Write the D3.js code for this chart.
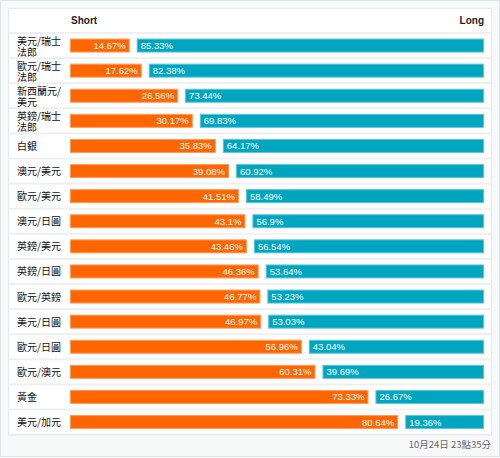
<!DOCTYPE html>
<html><head><meta charset="utf-8">
<script src="https://cdn.jsdelivr.net/npm/d3@7"></script>
<style>
body{margin:0;background:#fff;font-family:"Liberation Sans","Noto Sans CJK TC",sans-serif;}
</style></head><body>
<svg id="c" width="500" height="458"></svg>
<script>
const labels = [["美元/瑞士","法郎"],["歐元/瑞士","法郎"],["新西蘭元/","美元"],["英鎊/瑞士","法郎"],["白銀"],["澳元/美元"],["歐元/美元"],["澳元/日圓"],["英鎊/美元"],["英鎊/日圓"],["歐元/英鎊"],["美元/日圓"],["歐元/日圓"],["歐元/澳元"],["黃金"],["美元/加元"]];
const shortVals = [14.67,17.62,26.56,30.17,35.83,39.08,41.51,43.1,43.46,46.36,46.77,46.97,56.96,60.31,73.33,80.64];
const longVals  = [85.33,82.38,73.44,69.83,64.17,60.92,58.49,56.9,56.54,53.64,53.23,53.03,43.04,39.69,26.67,19.36];
const headers = ["Short","Long"];
const footer = "10月24日 23點35分";

(function(){
const svg = d3.select("#c");
const W=500,H=458;
svg.append("rect").attr("x",0.5).attr("y",0.5).attr("width",W-1).attr("height",H-2).attr("fill","#f7f8f8").attr("stroke","#dfe5e6");
const px0=8, px1=492, topY=8, headH=25, rowH=25.1;
const n=labels.length;
svg.append("rect").attr("x",px0+0.5).attr("y",topY+0.5).attr("width",px1-px0-1).attr("height",headH+n*rowH).attr("fill","#eef0f0").attr("stroke","#e6eaea");
svg.append("rect").attr("x",px0+1).attr("y",topY+1).attr("width",px1-px0-2).attr("height",headH-2).attr("fill","#fff");

const y = d3.scaleBand().domain(d3.range(n)).range([topY+headH, topY+headH+n*rowH]).paddingInner(0);
const barX0=70, barX1=484, gap=7;
const x = d3.scaleLinear().domain([0,100]).range([0, barX1-barX0-gap]);

const cs = "Liberation Sans, Arial, sans-serif";
svg.append("text").attr("x",71).attr("y",24).attr("font-size",10).attr("font-weight","bold").attr("fill","#222").attr("font-family",cs).text(headers[0]);
svg.append("text").attr("x",barX1).attr("y",24).attr("text-anchor","end").attr("font-size",10).attr("font-weight","bold").attr("fill","#222").attr("font-family",cs).text(headers[1]);

const g = svg.selectAll("g.row").data(d3.range(n)).join("g").attr("class","row");
g.append("rect").attr("x",px0+1).attr("y",i=>y(i)+1).attr("width",px1-px0-2).attr("height",y.bandwidth()-2).attr("fill","#fff");
const bh=14;
g.append("rect").attr("x",barX0+0.5).attr("y",i=>y(i)+y.bandwidth()/2-bh/2+0.5).attr("width",i=>x(shortVals[i])-1).attr("height",bh-1)
 .attr("fill","#ff6600").attr("stroke","#ff9a5c");
g.append("rect").attr("x",i=>barX0+x(shortVals[i])+gap+0.5).attr("y",i=>y(i)+y.bandwidth()/2-bh/2+0.5).attr("width",i=>x(longVals[i])-1).attr("height",bh-1)
 .attr("fill","#00a5c0").attr("stroke","#5cc6d8");
g.append("text").attr("x",i=>barX0+x(shortVals[i])-4).attr("y",i=>y(i)+y.bandwidth()/2+3.5).attr("text-anchor","end")
 .attr("font-size",9.5).attr("fill","#fff").attr("font-family",cs).text(i=>shortVals[i]+"%");
g.append("text").attr("x",i=>barX0+x(shortVals[i])+gap+4).attr("y",i=>y(i)+y.bandwidth()/2+3.5)
 .attr("font-size",9.5).attr("fill","#fff").attr("font-family",cs).text(i=>longVals[i]+"%");
g.each(function(i){
  const L=labels[i];
  const cy=y(i)+y.bandwidth()/2;
  const t=d3.select(this).append("text").attr("font-size",10).attr("fill","#111")
     .attr("font-family","Noto Sans CJK TC, sans-serif");
  L.forEach((s,k)=>{
    const dy = L.length===1?4:(k===0?-0.5:10);
    t.append("tspan").attr("x",17).attr("y",cy+dy).text(s);
  });
});
svg.append("text").attr("x",491).attr("y",448).attr("text-anchor","end").attr("font-size",9.5).attr("fill","#666")
 .attr("font-family","Noto Sans CJK TC, sans-serif").text(footer);
})();
</script></body></html>
